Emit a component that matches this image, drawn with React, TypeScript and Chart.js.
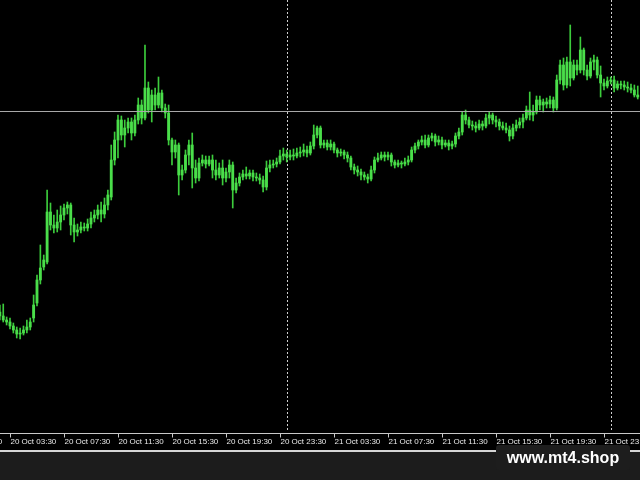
import React, { useEffect, useRef } from "react";
import { Chart, registerables } from "chart.js";

Chart.register(...registerables);

// 15-minute candles; bar index counted from 20 Oct 03:30 (index 0)
const FIRST_BAR = -3;

const open = [
  1.0688, 1.0684, 1.0680, 1.0678, 1.0674, 1.0670, 1.0666, 1.0667, 1.0670, 1.0673,
  1.0682, 1.0697, 1.0720, 1.0733, 1.0738, 1.0788, 1.0775, 1.0772, 1.0778, 1.0785,
  1.0792, 1.0795, 1.0775, 1.0768, 1.0770, 1.0773, 1.0772, 1.0776, 1.0782, 1.0785,
  1.0790, 1.0786, 1.0795, 1.0803, 1.0840, 1.0860, 1.0880, 1.0865, 1.0872, 1.0878,
  1.0867, 1.0880, 1.0895, 1.0882, 1.0912, 1.0890, 1.0905, 1.0895, 1.0907, 1.0892,
  1.0887, 1.0860, 1.0848, 1.0855, 1.0825, 1.0830, 1.0845, 1.0855, 1.0832, 1.0822,
  1.0837, 1.0840, 1.0836, 1.0840, 1.0830, 1.0825, 1.0832, 1.0822, 1.0828, 1.0835,
  1.0810, 1.0817, 1.0823, 1.0826, 1.0824, 1.0827, 1.0823, 1.0822, 1.0820, 1.0813,
  1.0832, 1.0835, 1.0836, 1.0838, 1.0844, 1.0846, 1.0843, 1.0845, 1.0844, 1.0847,
  1.0848, 1.0850, 1.0847, 1.0854, 1.0865, 1.0872, 1.0855, 1.0857, 1.0853, 1.0856,
  1.0850, 1.0847, 1.0848, 1.0845, 1.0842, 1.0833, 1.0830, 1.0828, 1.0825, 1.0823,
  1.0821, 1.0830, 1.0840, 1.0842, 1.0845, 1.0843, 1.0845, 1.0838, 1.0835, 1.0837,
  1.0836, 1.0838, 1.0840, 1.0850, 1.0854, 1.0858, 1.0860, 1.0855, 1.0862, 1.0864,
  1.0858, 1.0860, 1.0855, 1.0857, 1.0854, 1.0856, 1.0864, 1.0868, 1.0885, 1.0880,
  1.0875, 1.0874, 1.0872, 1.0876, 1.0874, 1.0882, 1.0885, 1.0880, 1.0878, 1.0874,
  1.0872, 1.0870, 1.0864, 1.0872, 1.0875, 1.0878, 1.0882, 1.0890, 1.0885, 1.0888,
  1.0900, 1.0895, 1.0898, 1.0896, 1.0900, 1.0892, 1.0920, 1.0935, 1.0915, 1.0938,
  1.0922, 1.0935, 1.0930, 1.0950, 1.0930, 1.0924, 1.0938, 1.0940, 1.0925, 1.0917,
  1.0914, 1.0919, 1.0920, 1.0912, 1.0916, 1.0915, 1.0913, 1.0912, 1.0910, 1.0905,
];

const high = [
  1.0695, 1.0696, 1.0683, 1.0682, 1.0677, 1.0673, 1.0672, 1.0674, 1.0680, 1.0682,
  1.0705, 1.0725, 1.0755, 1.0745, 1.0810, 1.0797, 1.0785, 1.0790, 1.0794, 1.0796,
  1.0798, 1.0797, 1.0782, 1.0776, 1.0778, 1.0777, 1.0781, 1.0788, 1.0790, 1.0795,
  1.0798, 1.0802, 1.0810, 1.0855, 1.0868, 1.0885, 1.0884, 1.0880, 1.0882, 1.0882,
  1.0885, 1.0902, 1.0900, 1.0955, 1.0918, 1.0910, 1.0912, 1.0923, 1.0910, 1.0896,
  1.0895, 1.0862, 1.0860, 1.0857, 1.0835, 1.0850, 1.0860, 1.0867, 1.0840, 1.0842,
  1.0845, 1.0844, 1.0844, 1.0845, 1.0840, 1.0837, 1.0840, 1.0832, 1.0840, 1.0838,
  1.0822, 1.0827, 1.0830, 1.0833, 1.0830, 1.0830, 1.0827, 1.0826, 1.0824, 1.0839,
  1.0840, 1.0840, 1.0842, 1.0850, 1.0852, 1.0850, 1.0850, 1.0851, 1.0852, 1.0853,
  1.0856, 1.0854, 1.0858, 1.0875, 1.0874, 1.0874, 1.0860, 1.0860, 1.0860, 1.0858,
  1.0852, 1.0851, 1.0850, 1.0848, 1.0844, 1.0836, 1.0834, 1.0831, 1.0828, 1.0826,
  1.0834, 1.0843, 1.0847, 1.0848, 1.0848, 1.0848, 1.0847, 1.0840, 1.0840, 1.0839,
  1.0842, 1.0844, 1.0853, 1.0857, 1.0860, 1.0864, 1.0865, 1.0865, 1.0867, 1.0866,
  1.0864, 1.0863, 1.0860, 1.0860, 1.0859, 1.0867, 1.0872, 1.0888, 1.0890, 1.0883,
  1.0879, 1.0878, 1.0880, 1.0879, 1.0886, 1.0888, 1.0887, 1.0884, 1.0881, 1.0878,
  1.0877, 1.0874, 1.0876, 1.0880, 1.0882, 1.0886, 1.0894, 1.0908, 1.0895, 1.0904,
  1.0904, 1.0901, 1.0902, 1.0904, 1.0903, 1.0925, 1.0940, 1.0942, 1.0943, 1.0975,
  1.0940, 1.0940, 1.0963, 1.0952, 1.0935, 1.0942, 1.0945, 1.0943, 1.0934, 1.0921,
  1.0923, 1.0923, 1.0924, 1.0919, 1.0919, 1.0919, 1.0918, 1.0916, 1.0915, 1.0914,
];

const low = [
  1.0680, 1.0678, 1.0675, 1.0671, 1.0667, 1.0662, 1.0661, 1.0665, 1.0667, 1.0670,
  1.0678, 1.0694, 1.0716, 1.0730, 1.0736, 1.0770, 1.0767, 1.0768, 1.0770, 1.0780,
  1.0786, 1.0765, 1.0758, 1.0764, 1.0767, 1.0769, 1.0769, 1.0772, 1.0778, 1.0781,
  1.0778, 1.0782, 1.0790, 1.0800, 1.0835, 1.0842, 1.0860, 1.0853, 1.0867, 1.0860,
  1.0864, 1.0876, 1.0876, 1.0880, 1.0887, 1.0878, 1.0890, 1.0892, 1.0888, 1.0882,
  1.0855, 1.0835, 1.0842, 1.0805, 1.0820, 1.0827, 1.0835, 1.0812, 1.0817, 1.0819,
  1.0834, 1.0832, 1.0834, 1.0822, 1.0820, 1.0822, 1.0815, 1.0818, 1.0822, 1.0792,
  1.0807, 1.0814, 1.0820, 1.0821, 1.0821, 1.0819, 1.0819, 1.0816, 1.0808, 1.0810,
  1.0828, 1.0832, 1.0833, 1.0836, 1.0840, 1.0838, 1.0840, 1.0840, 1.0842, 1.0843,
  1.0844, 1.0843, 1.0845, 1.0851, 1.0862, 1.0852, 1.0852, 1.0850, 1.0850, 1.0847,
  1.0843, 1.0844, 1.0841, 1.0838, 1.0830, 1.0826, 1.0824, 1.0820, 1.0820, 1.0817,
  1.0819, 1.0827, 1.0838, 1.0840, 1.0839, 1.0840, 1.0834, 1.0832, 1.0833, 1.0832,
  1.0834, 1.0835, 1.0838, 1.0847, 1.0851, 1.0855, 1.0852, 1.0853, 1.0859, 1.0854,
  1.0855, 1.0851, 1.0853, 1.0850, 1.0851, 1.0853, 1.0861, 1.0865, 1.0876, 1.0872,
  1.0870, 1.0868, 1.0870, 1.0870, 1.0872, 1.0876, 1.0876, 1.0873, 1.0870, 1.0870,
  1.0867, 1.0859, 1.0861, 1.0869, 1.0872, 1.0872, 1.0880, 1.0880, 1.0879, 1.0886,
  1.0890, 1.0888, 1.0892, 1.0892, 1.0888, 1.0890, 1.0916, 1.0910, 1.0912, 1.0914,
  1.0920, 1.0925, 1.0927, 1.0925, 1.0920, 1.0922, 1.0930, 1.0922, 1.0903, 1.0910,
  1.0912, 1.0916, 1.0908, 1.0910, 1.0911, 1.0910, 1.0908, 1.0907, 1.0903, 1.0901,
];

const close = [
  1.0684, 1.0680, 1.0678, 1.0674, 1.0670, 1.0666, 1.0667, 1.0670, 1.0673, 1.0678,
  1.0695, 1.0720, 1.0732, 1.0740, 1.0788, 1.0775, 1.0772, 1.0778, 1.0785, 1.0792,
  1.0795, 1.0775, 1.0768, 1.0770, 1.0773, 1.0772, 1.0776, 1.0782, 1.0785, 1.0790,
  1.0786, 1.0795, 1.0805, 1.0840, 1.0860, 1.0880, 1.0865, 1.0872, 1.0878, 1.0867,
  1.0880, 1.0895, 1.0882, 1.0912, 1.0890, 1.0905, 1.0895, 1.0907, 1.0892, 1.0887,
  1.0860, 1.0848, 1.0855, 1.0825, 1.0830, 1.0845, 1.0855, 1.0832, 1.0822, 1.0837,
  1.0840, 1.0836, 1.0840, 1.0830, 1.0825, 1.0832, 1.0822, 1.0828, 1.0835, 1.0810,
  1.0817, 1.0823, 1.0826, 1.0824, 1.0827, 1.0823, 1.0822, 1.0820, 1.0813, 1.0832,
  1.0835, 1.0836, 1.0838, 1.0844, 1.0846, 1.0843, 1.0845, 1.0844, 1.0847, 1.0848,
  1.0850, 1.0847, 1.0854, 1.0865, 1.0872, 1.0855, 1.0857, 1.0853, 1.0856, 1.0850,
  1.0847, 1.0848, 1.0845, 1.0842, 1.0833, 1.0830, 1.0828, 1.0825, 1.0823, 1.0821,
  1.0830, 1.0840, 1.0842, 1.0845, 1.0843, 1.0845, 1.0838, 1.0835, 1.0837, 1.0836,
  1.0838, 1.0840, 1.0850, 1.0854, 1.0858, 1.0860, 1.0855, 1.0862, 1.0864, 1.0858,
  1.0860, 1.0855, 1.0857, 1.0854, 1.0856, 1.0864, 1.0868, 1.0885, 1.0880, 1.0875,
  1.0874, 1.0872, 1.0876, 1.0874, 1.0882, 1.0885, 1.0880, 1.0878, 1.0874, 1.0872,
  1.0870, 1.0864, 1.0872, 1.0875, 1.0878, 1.0882, 1.0890, 1.0885, 1.0888, 1.0900,
  1.0895, 1.0898, 1.0896, 1.0900, 1.0892, 1.0920, 1.0935, 1.0915, 1.0938, 1.0922,
  1.0935, 1.0930, 1.0950, 1.0930, 1.0924, 1.0938, 1.0940, 1.0925, 1.0917, 1.0914,
  1.0919, 1.0920, 1.0912, 1.0916, 1.0915, 1.0913, 1.0912, 1.0910, 1.0905, 1.0903,
];

const tickBars = [-16, 0, 16, 32, 48, 64, 80, 96, 112, 128, 144, 160, 176];
const tickLabels = [
  "19 Oct 23:30", "20 Oct 03:30", "20 Oct 07:30", "20 Oct 11:30", "20 Oct 15:30",
  "20 Oct 19:30", "20 Oct 23:30", "21 Oct 03:30", "21 Oct 07:30", "21 Oct 11:30",
  "21 Oct 15:30", "21 Oct 19:30", "21 Oct 23:30",
];
const separatorBars = [82, 178];
const levelPrice = 1.0889;

const X_MIN = -2.96;
const X_MAX = 186.67;
const Y_MIN = 1.0568;
const Y_MAX = 1.1;

const overlay = {
  id: "mt4Overlay",
  beforeDatasetsDraw(chart: any) {
    const { ctx, chartArea, scales } = chart;
    const x = scales.x;
    ctx.save();
    ctx.strokeStyle = "#cfcfcf";
    ctx.lineWidth = 1;
    ctx.setLineDash([2, 2]);
    separatorBars.forEach((b) => {
      const px = Math.round(x.getPixelForValue(b)) + 0.5;
      ctx.beginPath();
      ctx.moveTo(px, chartArea.top);
      ctx.lineTo(px, chartArea.bottom);
      ctx.stroke();
    });
    ctx.restore();
  },
  afterDraw(chart: any) {
    const { ctx, chartArea, scales, width } = chart;
    const x = scales.x;
    const y = scales.y;
    ctx.save();
    // horizontal level line
    const ly = Math.round(y.getPixelForValue(levelPrice)) + 0.5;
    ctx.strokeStyle = "#a8a8a8";
    ctx.lineWidth = 1;
    ctx.beginPath();
    ctx.moveTo(0, ly);
    ctx.lineTo(width, ly);
    ctx.stroke();
    // time axis line
    const ay = chartArea.bottom + 1.5;
    ctx.strokeStyle = "#c8c8c8";
    ctx.beginPath();
    ctx.moveTo(0, ay);
    ctx.lineTo(width, ay);
    ctx.stroke();
    // ticks + labels
    ctx.font = '8px "Liberation Sans", Arial, sans-serif';
    ctx.fillStyle = "#e8e8e8";
    ctx.textAlign = "left";
    ctx.textBaseline = "middle";
    tickBars.forEach((b, i) => {
      const px = Math.round(x.getPixelForValue(b)) + 0.5;
      ctx.beginPath();
      ctx.moveTo(px, ay);
      ctx.lineTo(px, ay + 4);
      ctx.stroke();
      ctx.fillText(tickLabels[i], px, ay + 8);
    });
    ctx.restore();
  },
};

export default function App() {
  const canvasRef = useRef<HTMLCanvasElement | null>(null);

  useEffect(() => {
    const canvas = canvasRef.current;
    if (!canvas) return;
    const wickData = open.map((_, i) => ({ x: FIRST_BAR + i, y: [low[i], high[i]] }));
    const bodyData = open.map((o, i) => ({ x: FIRST_BAR + i, y: [o, close[i]] }));
    const chart = new Chart(canvas, {
      type: "bar",
      data: {
        datasets: [
          {
            label: "wick",
            data: wickData as any,
            backgroundColor: "#3ccc3c",
            barThickness: 1,
            grouped: false,
            order: 2,
          } as any,
          {
            label: "body",
            data: bodyData as any,
            backgroundColor: "#4ade4a",
            barThickness: 2.2,
            grouped: false,
            order: 1,
          } as any,
        ],
      },
      options: {
        animation: false,
        responsive: false,
        devicePixelRatio: 1,
        layout: { padding: { left: 0, right: 0, top: 0, bottom: 18 } },
        scales: {
          x: { type: "linear", min: X_MIN, max: X_MAX, display: false, offset: false },
          y: { type: "linear", min: Y_MIN, max: Y_MAX, display: false },
        },
        plugins: { legend: { display: false }, tooltip: { enabled: false } },
      },
      plugins: [overlay],
    });
    return () => chart.destroy();
  }, []);

  return (
    <div style={{ position: "relative", width: 640, height: 480, background: "#000", overflow: "hidden" }}>
      <style>{`body{margin:0;background:#000;}`}</style>
      <canvas ref={canvasRef} width={640} height={450} style={{ display: "block", background: "#000" }} />
      <div style={{ position: "absolute", left: 0, top: 450, width: 640, height: 2, background: "#d6d6d6" }} />
      <div style={{ position: "absolute", left: 0, top: 452, width: 640, height: 28, background: "#1c1c1c" }} />
      <div
        style={{
          position: "absolute",
          left: 496,
          top: 445,
          width: 134,
          height: 25,
          background: "#1d1d1d",
          borderRadius: 3,
          color: "#ffffff",
          fontFamily: '"Liberation Sans", Arial, sans-serif',
          fontWeight: "bold",
          fontSize: 16,
          lineHeight: "25px",
          textAlign: "center",
        }}
      >
        www.mt4.shop
      </div>
    </div>
  );
}
